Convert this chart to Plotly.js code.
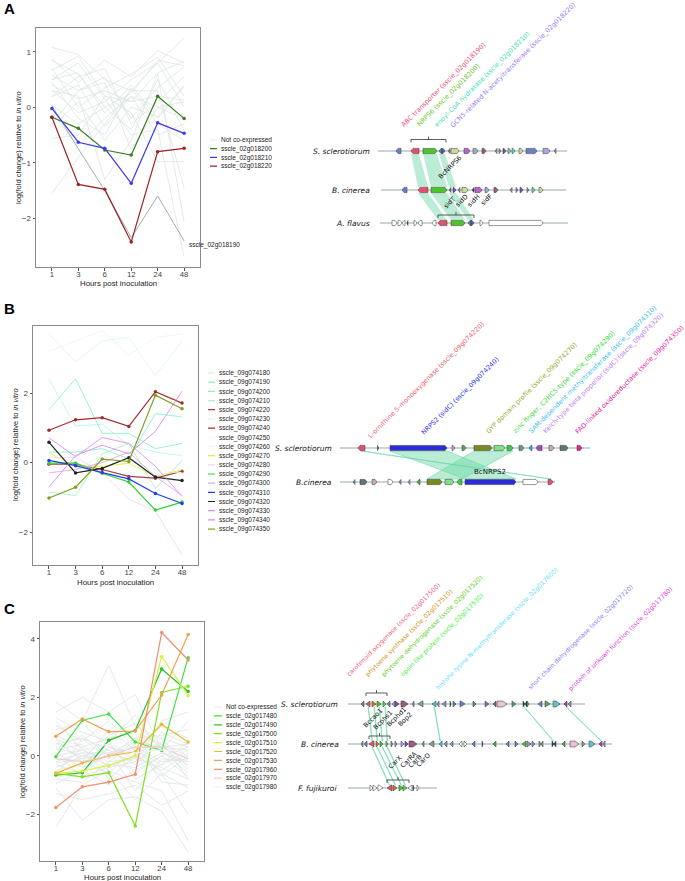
<!DOCTYPE html>
<html>
<head>
<meta charset="utf-8">
<script src="https://cdn.plot.ly/plotly-3.0.1.min.js"></script>
<style>body{margin:0;background:#fff}#fig{width:685px;height:881px}</style>
</head>
<body>
<div id="fig"></div>
<script>
// ---------- expression data (log fold change at each time point) ----------
var hours = ['1', '3', '6', '12', '24', '48'];

// panel A
var aGrey = [
    [1.08, 0.95, 0.5, 0.3, 0.8, 1.25], [0.87, 0.45, 0.85, 0.55, 1.02, 0.8],
    [0.67, 0.92, 0.2, 0.1, 0.62, 0.83], [0.58, 0.3, 0.55, -0.2, 0.35, 0.73],
    [0.5, 0.62, -0.1, 0.4, -0.2, 0.37], [0.4, 0.15, 0.3, 0.1, 0.2, 0.13],
    [0.31, -0.1, 0.1, 0.5, 0.8, 0.0], [0.19, 0.4, -0.35, 0.2, 0.0, -0.2],
    [0.04, -0.3, 0.0, -0.4, 0.5, -0.41], [-0.35, 0.1, -0.6, 0.0, -0.17, 0.4],
    [-0.56, -0.5, 0.2, -0.1, -0.98, -0.98], [-1.55, -0.9, -0.3, 0.3, 0.3, -1.46],
    [0.3, 0.2, -1.3, -0.6, 0.6, -2.07], [0.5, 0.8, 0.15, -0.5, -0.4, -2.7],
    [0.7, 0.0, 0.35, 0.6, 0.9, 0.2], [-0.1, -0.7, -0.2, 0.2, -0.5, -0.3],
    [0.2, 0.55, 0.7, -0.3, 0.1, 0.55], [0.85, 0.6, 0.0, 0.25, 0.85, 0.75],
    [-0.3, 0.3, 0.45, -0.77, 0.0, 0.1], [0.45, -0.2, -0.5, 0.35, -0.3, -0.6]
];
var a018190 = [0.03, -0.75, -1.5, -2.35, -1.6, -2.41];
var aNames = ['sscle_02g018200', 'sscle_02g018210', 'sscle_02g018220'];
var aValues = [
    [-0.18, -0.38, -0.77, -0.86, 0.2, -0.2],
    [-0.02, -0.63, -0.74, -1.37, -0.28, -0.47],
    [-0.18, -1.39, -1.48, -2.43, -0.8, -0.74]
];
var aColors = ['#3b7d23', '#3a3af0', '#9b2222'];

// panel B
var bNames = ['sscle_09g074180', 'sscle_09g074190', 'sscle_09g074200', 'sscle_09g074210',
    'sscle_09g074220', 'sscle_09g074230', 'sscle_09g074240', 'sscle_09g074250',
    'sscle_09g074260', 'sscle_09g074270', 'sscle_09g074280', 'sscle_09g074290',
    'sscle_09g074300', 'sscle_09g074310', 'sscle_09g074320', 'sscle_09g074330',
    'sscle_09g074340', 'sscle_09g074350'];
var bValues = [
    [2.4, 1.05, 1.1, 0.5, 0.3, 0.2],
    [1.52, 2.41, 0.84, 0.84, 0.4, 0.55],
    [0.3, 0.3, 0.4, 0.1, 1.41, 1.31],
    [-0.85, -0.95, 0.25, 0.55, -0.75, 0.05],
    [-0.05, -0.05, -0.2, -0.4, -0.45, -0.25],
    [3.7, 2.9, 3.5, 3.6, 2.5, 3.5],
    [0.93, 1.23, 1.29, 1.04, 2.04, 1.71],
    [-0.1, -0.2, 0.2, -0.1, -0.2, -0.3],
    [3.2, 3.5, 3.8, 3.1, 3.6, 3.7],
    [0.27, -0.11, -0.11, -0.02, -0.4, -0.21],
    [0.15, 0.15, -0.3, -1.05, -1.4, -2.65],
    [-0.02, -0.02, -0.31, -0.56, -1.37, -1.14],
    [-0.3, -0.2, 0.0, 0.3, -0.4, -0.95],
    [0.06, -0.09, -0.29, -0.47, -0.89, -1.18],
    [0.58, -0.3, -0.17, 0.14, -0.42, -0.52],
    [0.71, 0.17, 0.72, 0.55, -0.11, -0.97],
    [-0.7, 0.2, 0.5, 0.25, 0.9, 2.05],
    [-1.02, -0.71, 0.1, 0.03, 1.94, 1.55]
];
var bColors = ['#bff5df', '#8ff0c8', '#8ff0c8', '#a6f2d2', '#a04040', '#daf8ec', '#a52a2a', '#eef6f2',
    '#f3f3f3', '#e6ee3a', '#f2d8f2', '#30d030', '#e0a8e8', '#2040f0', '#222222', '#d890f0',
    '#d890f0', '#80a020'];
var bMarked = [false, false, false, false, true, false, true, false,
    false, false, false, true, false, true, true, false, false, true];

// panel C
var cGrey = [
    [1.85, 1.2, 3.1, 1.0, 0.6, 0.3], [1.5, 2.0, 1.5, 2.1, 0.2, 1.2],
    [1.3, 0.8, 0.5, 1.4, 0.1, -0.2], [1.05, 0.5, 1.2, 0.3, 1.0, 0.6],
    [0.9, 1.1, 0.3, -0.1, 0.8, 0.4], [0.7, 0.3, 0.6, 0.8, 0.4, 0.0],
    [0.55, -0.2, 0.9, 0.2, -0.3, 0.5], [0.4, 0.6, -0.1, 0.5, 0.3, 0.2],
    [0.3, 0.0, 0.2, -0.3, 0.6, -0.4], [0.2, 0.4, -0.4, 0.0, -0.5, 0.1],
    [0.1, -0.4, 0.0, 0.6, 0.2, -0.6], [0.0, 0.2, 0.4, -0.6, 0.0, 0.3],
    [-0.1, -0.2, -0.6, 0.3, -0.2, -0.1], [-0.2, 0.1, 0.1, -0.2, 0.5, -0.8],
    [-0.3, -0.6, 0.3, 0.1, -0.7, 0.0], [-0.4, 0.0, -0.3, -0.4, 0.1, -0.3],
    [-0.5, -0.3, 0.5, -0.8, -0.3, 0.2], [-0.6, 0.3, -0.8, 0.0, 0.4, -0.5],
    [-0.8, -0.9, -0.2, 0.4, -0.9, -1.0], [-0.95, -0.5, -1.0, -0.5, 0.0, -0.7],
    [-1.3, -1.5, -1.3, -1.0, -1.7, -1.2], [-2.45, -1.0, -0.5, -1.5, -0.6, -2.0],
    [-1.1, -2.2, -1.5, -1.4, -1.9, -3.3], [0.6, 0.1, -0.5, -0.9, -1.2, -2.9],
    [0.25, 0.7, 0.0, 0.6, 0.7, 0.9], [-0.25, -0.1, 0.7, 1.1, 0.3, 0.4],
    [1.2, 0.2, -0.2, -0.1, -0.4, -0.8], [0.05, -0.7, -0.4, -0.2, 1.2, 1.5],
    [-0.7, 0.6, 0.2, -1.2, -0.1, -0.2], [0.45, -0.1, 0.1, 0.3, -0.6, -1.1]
];
var cNames = ['sscle_02g017480', 'sscle_02g017490', 'sscle_02g017500', 'sscle_02g017510',
    'sscle_02g017520', 'sscle_02g017530', 'sscle_02g017960', 'sscle_02g017970', 'sscle_02g017980'];
var cValues = [
    [-0.03, 1.22, 1.43, 0.47, 0.18, 3.36],
    [-0.66, -0.58, 0.53, 0.87, 2.97, 2.2],
    [-0.6, -0.72, -0.58, -2.4, 2.17, 2.38],
    [-0.6, -0.52, -0.33, 0.0, 3.4, 2.06],
    [-0.6, -0.24, 0.0, 0.14, 1.08, 0.47],
    [0.67, 1.26, 0.82, 0.85, 2.08, 4.15],
    [-1.77, -1.06, -0.9, -0.63, 4.22, 3.28],
    [-0.1, -0.2, 0.0, 0.3, 0.3, -0.1],
    [0.3, 0.2, 0.4, 0.1, 0.2, 0.15]
];
var cColors = ['#3ee03e', '#22c422', '#7ee020', '#d8f040', '#e8b830', '#f0a050', '#f09070', '#f4c8c8', '#f3f3f3'];
var cMarked = [true, true, true, true, true, true, true, false, false];

// ---------- gene clusters: [start, end, strand, class] ----------
var geneColors = {
    slate: '#6b80c4', red: '#e8506a', green: '#4cc42a', teal: '#3a9a8a', purple: '#7a48c8',
    grey: '#8a9a9a', ygreen: '#c8dc98', magenta: '#c060d0', lblue: '#9aaed0', mauve: '#a05a80',
    lteal: '#70d0b8', lav: '#b8a0e8', dark: '#404848', white: '#ffffff',
    blue: '#2b2bd8', olive: '#7a8a1e', lgreen: '#80e088', bgreen: '#30d040', tealg: '#60a090',
    sky: '#40a8f0', violet: '#a848c8', pgrey: '#c8a8b8', slate2: '#607478', pink2: '#e8208c',
    sgreen: '#58a858', brown: '#c08028', green2: '#48e048', cyan: '#40c8e0', ggreen: '#80a880',
    bgrey: '#8898c0', navy: '#303878', pink: '#e8c0d0', cyanbox: '#60c0d0', magenta3: '#d020d0'
};

var aSsc = [[396, 401, -1, 'slate'], [411, 419, -1, 'red'], [423, 437, 1, 'green'], [439, 442, -1, 'teal'],
    [442, 445, 1, 'purple'], [448, 450, -1, 'grey'], [451, 459, 1, 'ygreen'], [464, 470, 1, 'magenta'],
    [473, 478, 1, 'lblue'], [482, 486, 1, 'mauve'], [495, 497, -1, 'grey'], [499, 501, 1, 'grey'],
    [503, 506, 1, 'purple'], [508, 511, 1, 'lteal'], [512, 515, 1, 'lteal'], [519, 523, 1, 'ygreen'],
    [526, 537, 1, 'slate'], [543, 550, 1, 'lav'], [554, 556, -1, 'grey']];
var aBc = [[402, 407, -1, 'slate'], [418, 428, -1, 'red'], [431, 447, 1, 'green'], [449, 451, -1, 'teal'],
    [453, 456, 1, 'purple'], [458, 460, -1, 'grey'], [462, 468, 1, 'ygreen'], [472, 474, -1, 'dark'],
    [475, 482, 1, 'magenta'], [485, 489, 1, 'lblue'], [494, 498, 1, 'mauve'], [510, 512, -1, 'grey'],
    [516, 518, 1, 'grey'], [520, 523, 1, 'purple'], [527, 529, 1, 'grey'], [532, 535, 1, 'lteal'],
    [539, 543, 1, 'ygreen']];
var aAf = [[392, 397, 1, 'white'], [398, 402, 1, 'white'], [402, 405, -1, 'white'], [407, 408, -1, 'dark'],
    [414, 417, 1, 'white'], [418, 422, -1, 'white'], [432, 436, -1, 'white'], [438, 447, -1, 'red'],
    [451, 465, 1, 'green'], [468, 471, -1, 'teal'], [471, 474, 1, 'purple'], [480, 483, 1, 'white'],
    [489, 543, 1, 'white']];

var bSsc = [[358, 365, -1, 'red'], [377.5, 378.7, 1, 'dark'], [390, 447, 1, 'blue'], [452, 455, 1, 'lav'],
    [462, 466, 1, 'sgreen'], [474, 492, 1, 'olive'], [494, 505, 1, 'lgreen'], [507, 513, 1, 'bgreen'],
    [519, 524, 1, 'tealg'], [529, 532, -1, 'sky'], [536, 542, -1, 'violet'], [549, 554, 1, 'pgrey'],
    [560, 568, 1, 'slate2'], [577, 582, 1, 'pink2']];
var bBc = [[353, 355, -1, 'grey'], [360, 367, 1, 'slate2'], [372, 377, 1, 'pgrey'], [388, 393, 1, 'white'],
    [399, 401, -1, 'grey'], [408, 410, -1, 'lav'], [417, 420, -1, 'sgreen'], [427, 442, 1, 'olive'],
    [445, 454, 1, 'lgreen'], [457, 462, -1, 'bgreen'], [465, 516, 1, 'blue'], [523, 538, 1, 'white'],
    [548, 553, 1, 'red']];

var cSsc = [[361, 364, -1, 'slate'], [366, 370, -1, 'red'], [372, 376, 1, 'brown'], [377, 381, 1, 'green'],
    [383, 386, 1, 'green2'], [387, 390, -1, 'tealg'], [392, 395, -1, 'lav'], [395, 399, 1, 'purple'],
    [401, 408, 1, 'mauve'], [412, 414, -1, 'grey'], [418, 423, -1, 'ggreen'], [432, 436, -1, 'cyan'],
    [437, 439, -1, 'grey'], [442, 446, -1, 'bgrey'], [450, 451, 1, 'dark'], [453, 456, 1, 'slate'],
    [460, 465, 1, 'slate'], [473, 476, 1, 'sgreen'], [485, 489, 1, 'slate'], [493, 496, -1, 'mauve'],
    [497, 507, 1, 'pink'], [512, 516, 1, 'sgreen'], [523, 525, 1, 'navy'], [525, 527, -1, 'navy'],
    [527, 529, 1, 'green'], [538, 542, -1, 'slate'], [545, 550, 1, 'sgreen'], [553, 560, 1, 'cyanbox'],
    [564, 567, -1, 'magenta3'], [568, 571, -1, 'grey']];
var cBc = [[361, 363, -1, 'grey'], [364, 367, -1, 'slate'], [369, 374, -1, 'red'], [376, 379, 1, 'brown'],
    [380, 383, 1, 'green'], [386, 388, 1, 'green2'], [391, 393, 1, 'grey'], [395, 397, 1, 'lblue'],
    [401, 404, 1, 'lav'], [405, 408, 1, 'purple'], [409, 417, 1, 'mauve'], [422, 424, -1, 'grey'],
    [429, 434, -1, 'ggreen'], [439, 442, -1, 'cyan'], [444, 447, -1, 'grey'], [450, 453, -1, 'bgrey'],
    [459, 462, -1, 'white'], [464, 467, 1, 'white'], [472, 475, -1, 'slate'], [482, 483, 1, 'dark'],
    [493, 496, -1, 'sgreen'], [506, 509, -1, 'slate'], [515, 518, 1, 'slate'], [522, 526, -1, 'green'],
    [527, 531, 1, 'bgrey'], [532, 535, 1, 'grey'], [539, 541, 1, 'grey'], [541, 543, -1, 'grey'],
    [552, 554, 1, 'navy'], [554, 556, -1, 'navy'], [562, 565, -1, 'sgreen'], [570, 579, 1, 'pink'],
    [582, 585, 1, 'grey'], [589, 595, 1, 'cyanbox'], [599, 602, -1, 'magenta3'], [603, 605, -1, 'grey']];
var cFf = [[370, 373, 1, 'white'], [373, 377, 1, 'white'], [378, 383, 1, 'white'], [387, 392, -1, 'red'],
    [393, 397, 1, 'brown'], [399, 403, 1, 'green'], [403, 407, 1, 'green2'], [408, 412, -1, 'white'],
    [413, 414, 1, 'dark'], [417, 419, 1, 'white']];

// homology links: [from start, from end, to start, to end]
var aLinks1 = [[411, 419, 418, 428], [423, 437, 431, 447], [439, 445, 449, 456]];
var aLinks2 = [[418, 428, 438, 447], [431, 447, 451, 465], [449, 456, 468, 474]];
var bLinks = [[390, 447, 465, 516], [474, 513, 427, 462], [361, 362, 550, 551]];
var cLinks1 = [[368, 368.5, 372, 372.5], [374, 374.5, 377, 377.5], [379, 379.5, 382, 382.5], [385, 385.5, 387, 387.5],
    [434, 434.5, 440, 440.5], [524, 524.5, 553, 553.5], [566, 566.5, 601, 601.5]];
var cLinks2 = [[372, 372.5, 389, 389.5], [377, 377.5, 395, 395.5], [382, 382.5, 401, 401.5], [387, 387.5, 405, 405.5]];

// ---------- figure ----------
var W = 685, H = 881;
var font = 'Liberation Sans, Arial, sans-serif';
var dfont = 'DejaVu Sans, Verdana, sans-serif';
function px(v) { return v / W; }
function py(v) { return 1 - v / H; }

var traces = [];
var annotations = [];

function lineTrace(ax, vals, color, width, marked) {
    return {
        type: 'scatter', x: hours, y: vals, xaxis: 'x' + ax, yaxis: 'y' + ax,
        mode: marked ? 'lines+markers' : 'lines',
        line: {color: color, width: width}, marker: {color: color, size: 3.5},
        hoverinfo: 'skip', showlegend: false
    };
}

// A
aGrey.forEach(function (v) { traces.push(lineTrace('', v, '#dce4e2', 0.8, false)); });
traces.push(lineTrace('', a018190, '#a3b0ae', 1, false));
aValues.forEach(function (v, i) { traces.push(lineTrace('', v, aColors[i], 1.2, true)); });
// B
bValues.forEach(function (v, i) { traces.push(lineTrace('2', v, bColors[i], bMarked[i] ? 1.2 : 0.9, bMarked[i])); });
// C
cGrey.forEach(function (v) { traces.push(lineTrace('3', v, '#dce4e2', 0.8, false)); });
cValues.forEach(function (v, i) { traces.push(lineTrace('3', v, cColors[i], 1.2, cMarked[i])); });

// legends (drawn on small hidden axes, one row per series)
function legendTraces(ax, names, colors) {
    names.forEach(function (n, i) {
        traces.push({
            type: 'scatter', x: [0, 1], y: [i, i], xaxis: 'x' + ax, yaxis: 'y' + ax,
            mode: 'lines', line: {color: colors[i], width: 1.2}, hoverinfo: 'skip', showlegend: false
        });
    });
}
legendTraces('4', ['Not co-expressed'].concat(aNames), ['#e4ebe9'].concat(aColors));
legendTraces('5', bNames, bColors);
legendTraces('6', ['Not co-expressed'].concat(cNames), ['#e8eeec'].concat(cColors));

// gene diagrams
var G = {xaxis: 'x7', yaxis: 'y7', hoverinfo: 'skip', showlegend: false};
function addTrack(x0, x1, y) {
    traces.push(Object.assign({type: 'scatter', mode: 'lines', x: [x0, x1], y: [y, y],
        line: {color: '#b8c6cb', width: 1.4}}, G));
}
function addGenes(genes, y, h, maxTip) {
    genes.forEach(function (g) {
        var s = g[0], e = g[1], tip = Math.min(maxTip, e - s);
        var xs = g[2] > 0 ? [s, e - tip, e, e - tip, s, s] : [e, s + tip, s, s + tip, e, e];
        traces.push(Object.assign({type: 'scatter', mode: 'lines', x: xs,
            y: [y - h, y - h, y, y + h, y + h, y - h], fill: 'toself',
            fillcolor: geneColors[g[3]], line: {color: '#333', width: 0.5}}, G));
    });
}
function addLinks(links, y0, y1, thin) {
    links.forEach(function (l) {
        traces.push(Object.assign({type: 'scatter', mode: 'lines',
            x: [l[0], l[1], l[3], l[2], l[0]], y: [y0, y0, y1, y1, y0], fill: 'toself',
            fillcolor: 'rgba(105,215,165,0.45)', line: {color: thin ? 'rgba(105,215,165,0.7)' : 'rgba(0,0,0,0)', width: 0.8}}, G));
    });
}
function addBracket(x0, x1, y, dir) {
    var m = (x0 + x1) / 2;
    traces.push(Object.assign({type: 'scatter', mode: 'lines',
        x: [x0, x0, x1, x1, null, m, m], y: [y + 3 * dir, y, y, y + 3 * dir, null, y, y - 3 * dir],
        line: {color: '#333', width: 0.8}}, G));
}
function rotLabel(text, x, y, color, size) {
    annotations.push({text: text, x: x, y: y, xref: 'x7', yref: 'y7', xanchor: 'left', yanchor: 'bottom',
        textangle: -45, showarrow: false, font: {family: dfont, size: size || 6.5, color: color}});
}
function species(text, x, y) {
    annotations.push({text: '<i>' + text + '</i>', x: x, y: y, xref: 'x7', yref: 'y7', xanchor: 'right',
        yanchor: 'middle', showarrow: false, font: {family: dfont, size: 7.5, color: '#111'}});
}

// A cluster
addLinks(aLinks1, 154, 187);
addLinks(aLinks2, 193, 220);
addTrack(378, 567, 151); addTrack(381, 566, 190); addTrack(380, 568, 223);
addGenes(aSsc, 151, 2.6, 2); addGenes(aBc, 190, 2.6, 2); addGenes(aAf, 223, 2.6, 2);
addBracket(411, 446, 139.5, 1); addBracket(438, 474, 215, 1);
species('S. sclerotiorum', 372, 151); species('B. cinerea', 372, 190); species('A. flavus', 372, 223);
rotLabel('ABC transporter (sscle_02g018190)', 397, 132, '#f0506e');
rotLabel('NRPS6 (sscle_02g018200)', 413, 131, '#6cc832');
rotLabel('enoyl-CoA hydratase (sscle_02g018210)', 430, 131, '#45e0b5');
rotLabel('GCN5-related N-acetyltransferase (sscle_02g018220)', 446, 132, '#9a7cf5');
rotLabel('BcNRPS6', 434, 183, '#111');
rotLabel('sidT', 439, 213, '#111'); rotLabel('sidD', 451, 212, '#111');
rotLabel('sidH', 463, 212, '#111'); rotLabel('sidF', 476, 210, '#111');

// B cluster
addLinks(bLinks, 451, 479, true);
addTrack(340, 590, 448); addTrack(340, 555, 482);
addGenes(bSsc, 448, 2.6, 2); addGenes(bBc, 482, 2.6, 2);
species('S. sclerotiorum', 334, 448); species('B.cinerea', 334, 482);
rotLabel('L-ornithine 5-monooxygenase (sscle_09g074220)', 364, 443, '#f06070');
rotLabel('NRPS2 (sidC) (sscle_09g074240)', 417, 439, '#3030f0');
rotLabel('GYP domain profile (sscle_09g074270)', 482, 438, '#9aaa30');
rotLabel('zinc finger, C2HC5-type (sscle_09g074290)', 509, 438, '#30e030');
rotLabel('SAM-dependent methyltransferase (sscle_09g074310)', 524, 438, '#40c0f0');
rotLabel('Kelch-type beta propellor (sidC) (sscle_09g074320)', 539, 438, '#c080f0');
rotLabel('FAD-linked oxidoreductase (sscle_09g074350)', 571, 439, '#f020a0');
annotations.push({text: 'BcNRPS2', x: 490, y: 472, xref: 'x7', yref: 'y7', showarrow: false,
    font: {family: dfont, size: 7, color: '#111'}});

// C cluster
addLinks(cLinks1, 707, 741, true);
addLinks(cLinks2, 747, 785, true);
addTrack(348, 585, 704); addTrack(348, 612, 744); addTrack(348, 437, 788);
addGenes(cSsc, 704, 3, 4); addGenes(cBc, 744, 3, 4); addGenes(cFf, 788, 3, 4);
addBracket(366, 387, 693, 1); addBracket(369, 390, 736, 1); addBracket(387, 409, 780, 1);
species('S. sclerotiorum', 340, 704); species('B. cinerea', 341, 744); species('F. fujikuroi', 339, 788);
rotLabel('carotenoid oxygenase (sscle_02g017500)', 342, 681, '#f06080', 6.2);
rotLabel('phytoene synthase (sscle_02g017510)', 361, 681, '#d09020', 6.2);
rotLabel('phytoene dehydrogenase (sscle_02g017520)', 377, 681, '#60d020', 6.2);
rotLabel('opsin-like protein (sscle_02g017530)', 396, 681, '#40f040', 6.2);
rotLabel('histone-lysine N-methyltransferase (sscle_02g017600)', 431, 694, '#60e0f0', 6.2);
rotLabel('short chain dehydrogenase (sscle_02g017720)', 524, 694, '#8080f0', 6.2);
rotLabel('protein of unkown function (sscle_02g017780)', 564, 696, '#e040e0', 6.2);
rotLabel('Bccao1', 359, 732, '#111'); rotLabel('Bcphs1', 369, 734, '#111');
rotLabel('Bcphd1', 382, 731, '#111'); rotLabel('Bop2', 394, 731, '#111');
rotLabel('CarX', 384, 773, '#111'); rotLabel('CarRA', 396, 773, '#111');
rotLabel('CarB', 404, 772, '#111'); rotLabel('CarO', 412, 771, '#111');

// panel letters, axis titles and other text
[['A', 8], ['B', 308], ['C', 608]].forEach(function (p) {
    annotations.push({text: '<b>' + p[0] + '</b>', x: px(2), y: py(p[1]), xref: 'paper', yref: 'paper',
        xanchor: 'left', yanchor: 'middle', showarrow: false, font: {family: font, size: 15, color: '#000'}});
});
[[118, 283.5], [115.5, 582], [122, 877.5]].forEach(function (p) {
    annotations.push({text: 'Hours post inoculation', x: px(p[0]), y: py(p[1]), xref: 'paper', yref: 'paper',
        xanchor: 'center', yanchor: 'middle', showarrow: false, font: {family: font, size: 7.8, color: '#222'}});
});
[[18, 148], [15, 445], [22, 742]].forEach(function (p) {
    annotations.push({text: 'log(fold change) relative to <i>in vitro</i>', x: px(p[0]), y: py(p[1]),
        xref: 'paper', yref: 'paper', xanchor: 'center', yanchor: 'middle', textangle: -90, showarrow: false,
        font: {family: font, size: 7.5, color: '#222'}});
});
annotations.push({text: 'sscle_02g018190', x: 5, y: -2.41, xref: 'x', yref: 'y', xanchor: 'left',
    yanchor: 'top', xshift: 3, yshift: 2, showarrow: false, font: {family: font, size: 6.5, color: '#222'}});

function chartX(d, anchor) {
    return {domain: d, anchor: anchor, type: 'category', categoryarray: hours, range: [-0.6, 5.6],
        showline: true, mirror: true, linecolor: '#8a8a8a', linewidth: 1, showgrid: false, zeroline: false,
        ticks: 'outside', ticklen: 2.5, tickcolor: '#555', ticklabelstandoff: -3,
        tickfont: {family: font, size: 7.8, color: '#444'}};
}
function chartY(d, anchor, r, dt) {
    return {domain: d, anchor: anchor, range: r, dtick: dt, showline: true, mirror: true,
        linecolor: '#8a8a8a', linewidth: 1, showgrid: false, zeroline: false, ticks: 'outside', ticklen: 2.5,
        tickcolor: '#555', tickfont: {family: font, size: 8, color: '#444'}};
}
function legendX(x0, x1, anchor) {
    return {domain: [px(x0), px(x1)], anchor: anchor, range: [0, 1], visible: false, fixedrange: true};
}
function legendY(top, step, names, anchor) {
    var n = names.length;
    return {domain: [py(top + (n - 0.5) * step), py(top - 0.5 * step)], anchor: anchor,
        range: [n - 0.5, -0.5], side: 'right', showline: false, showgrid: false, zeroline: false,
        ticks: '', ticklabelstandoff: 3, tickvals: names.map(function (m, i) { return i; }), ticktext: names,
        tickfont: {family: font, size: 6.5, color: '#222'}};
}

var layout = {
    width: W, height: H, margin: {l: 0, r: 0, t: 0, b: 0, pad: 0},
    paper_bgcolor: '#fff', plot_bgcolor: 'rgba(0,0,0,0)', showlegend: false,
    font: {family: font, color: '#222'},
    xaxis: chartX([px(36), px(200)], 'y'),
    yaxis: chartY([py(267), py(28)], 'x', [-2.88, 1.43], 1),
    xaxis2: chartX([px(33), px(198)], 'y2'),
    yaxis2: chartY([py(565), py(326)], 'x2', [-2.95, 3.93], 2),
    xaxis3: chartX([px(40), px(204)], 'y3'),
    yaxis3: chartY([py(861), py(622)], 'x3', [-3.6, 4.58], 2),
    xaxis4: legendX(210, 217, 'y4'), yaxis4: legendY(140, 8.7, ['Not co-expressed'].concat(aNames), 'x4'),
    xaxis5: legendX(208, 215, 'y5'), yaxis5: legendY(373, 9.18, bNames, 'x5'),
    xaxis6: legendX(214, 222, 'y6'), yaxis6: legendY(707, 8.9, ['Not co-expressed'].concat(cNames), 'x6'),
    xaxis7: {domain: [0, 1], anchor: 'y7', range: [0, W], visible: false, fixedrange: true},
    yaxis7: {domain: [0, 1], anchor: 'x7', range: [H, 0], visible: false, fixedrange: true},
    annotations: annotations
};

Plotly.newPlot('fig', traces, layout, {staticPlot: true});
</script>
</body>
</html>
